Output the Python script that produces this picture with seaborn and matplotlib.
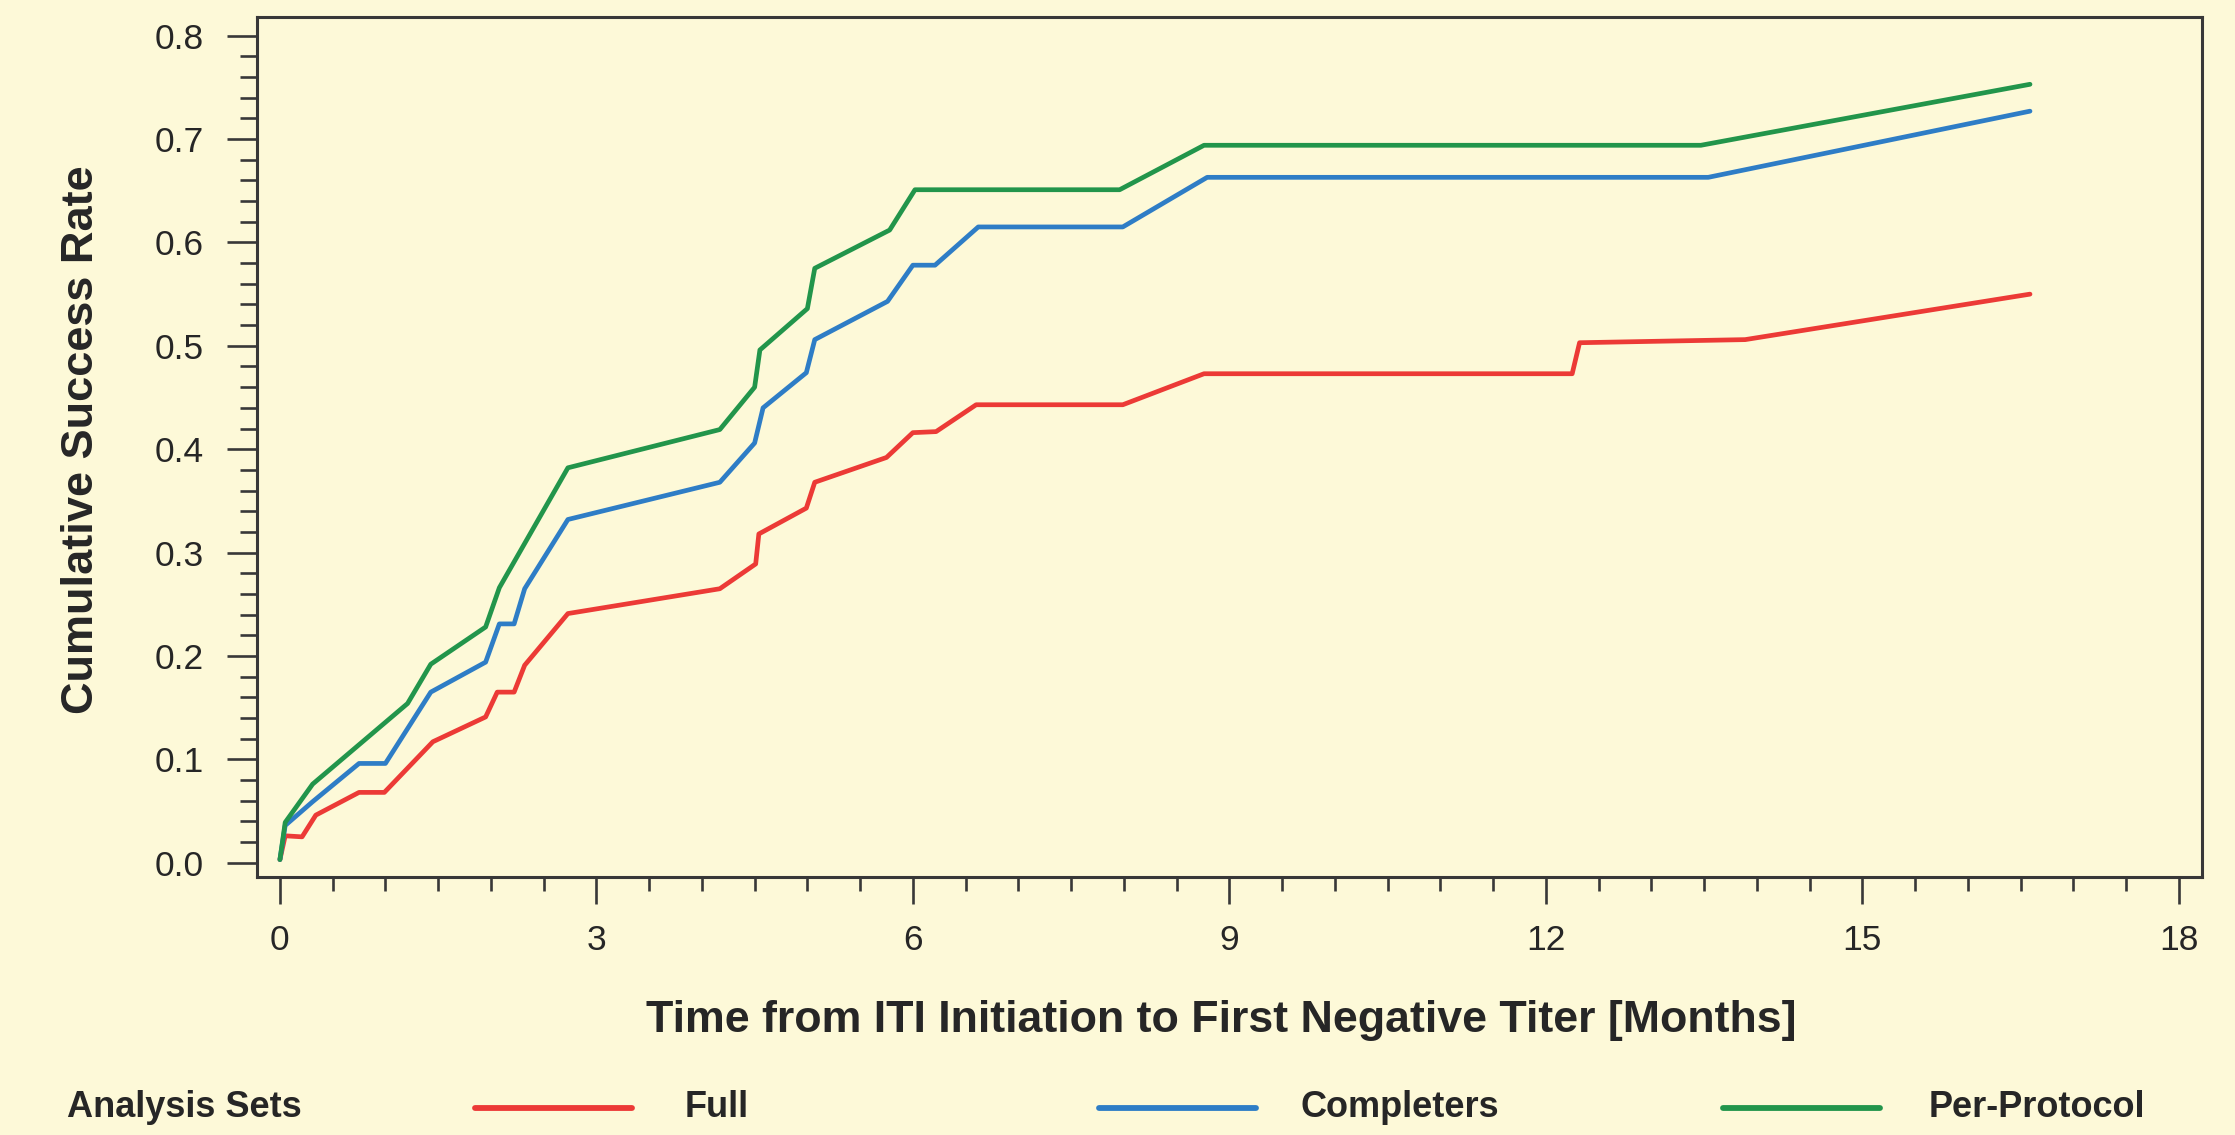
import matplotlib
matplotlib.use("Agg")
import matplotlib.pyplot as plt
from matplotlib.lines import Line2D
from matplotlib.ticker import MultipleLocator, FormatStrFormatter
import numpy as np
import pandas as pd
import seaborn as sns

# ---------------- data ----------------
full_months = [0.00, 0.05, 0.21, 0.34, 0.75, 0.99, 1.45, 1.95, 2.06, 2.22, 2.32, 2.73,
               4.17, 4.51, 4.54, 4.99, 5.07, 5.75, 6.00, 6.22, 6.60, 7.99, 8.76,
               12.25, 12.32, 13.89, 16.59]
full_rate = [0.003, 0.026, 0.025, 0.046, 0.068, 0.068, 0.117, 0.141, 0.165, 0.165, 0.191, 0.241,
             0.265, 0.289, 0.318, 0.343, 0.368, 0.392, 0.416, 0.417, 0.443, 0.443, 0.473,
             0.473, 0.503, 0.506, 0.550]

comp_months = [0.00, 0.05, 0.31, 0.75, 1.00, 1.43, 1.95, 2.08, 2.22, 2.32, 2.73,
               4.17, 4.50, 4.58, 4.99, 5.07, 5.76, 6.00, 6.21, 6.62, 7.99, 8.79,
               13.54, 16.59]
comp_rate = [0.003, 0.036, 0.059, 0.096, 0.096, 0.165, 0.194, 0.231, 0.231, 0.265, 0.332,
             0.368, 0.406, 0.440, 0.474, 0.506, 0.543, 0.578, 0.578, 0.615, 0.615, 0.663,
             0.663, 0.727]

pp_months = [0.00, 0.05, 0.31, 1.21, 1.43, 1.95, 2.08, 2.73, 4.17, 4.50, 4.55, 5.00,
             5.07, 5.78, 6.02, 7.96, 8.76, 13.47, 16.59]
pp_rate = [0.003, 0.039, 0.076, 0.154, 0.192, 0.228, 0.266, 0.382, 0.419, 0.460, 0.496, 0.536,
           0.575, 0.612, 0.651, 0.651, 0.694, 0.694, 0.753]

set_names = ["Full", "Completers", "Per-Protocol"]
set_colors = ["#EC3A36", "#2E7DC6", "#22954B"]

x_ticks = [0, 3, 6, 9, 12, 15, 18]
y_ticks = [0.0, 0.1, 0.2, 0.3, 0.4, 0.5, 0.6, 0.7, 0.8]

x_label = "Time from ITI Initiation to First Negative Titer [Months]"
y_label = "Cumulative Success Rate"
legend_title = "Analysis Sets"

# ---------------- build long-form table ----------------
df = pd.concat([
    pd.DataFrame({"Month": full_months, "Rate": full_rate, "Set": "Full"}),
    pd.DataFrame({"Month": comp_months, "Rate": comp_rate, "Set": "Completers"}),
    pd.DataFrame({"Month": pp_months, "Rate": pp_rate, "Set": "Per-Protocol"}),
], ignore_index=True)

# ---------------- style ----------------
BG = "#FDF9D8"
INK = "#262626"
SPINE = "#383838"

sns.set_theme(style="ticks")
plt.rcParams["font.family"] = ["Liberation Sans", "DejaVu Sans"]
plt.rcParams["axes.facecolor"] = BG
plt.rcParams["figure.facecolor"] = BG
plt.rcParams["savefig.facecolor"] = BG

fig = plt.figure(figsize=(22.35, 11.35), dpi=100)
ax = fig.add_axes([0.1151, 0.2269, 0.8703, 0.7584])

palette = dict(zip(set_names, set_colors))
sns.lineplot(data=df, x="Month", y="Rate", hue="Set", hue_order=set_names,
             palette=palette, estimator=None, sort=False, linewidth=3.4,
             legend=False, ax=ax)

ax.set_xlim(-0.215, 18.224)
ax.set_ylim(-0.0143, 0.8184)

ax.set_xticks(x_ticks)
ax.set_yticks(y_ticks)
ax.xaxis.set_minor_locator(MultipleLocator(0.5))
ax.yaxis.set_minor_locator(MultipleLocator(0.02))
ax.yaxis.set_major_formatter(FormatStrFormatter("%.1f"))

for side in ["left", "right", "top", "bottom"]:
    ax.spines[side].set_visible(True)
    ax.spines[side].set_color(SPINE)
    ax.spines[side].set_linewidth(2.2)

ax.tick_params(axis="y", which="major", direction="out", length=21.5, width=1.9,
               color=SPINE, labelsize=25.5, labelcolor=INK, pad=17)
ax.tick_params(axis="y", which="minor", direction="out", length=12, width=1.9, color=SPINE)
ax.tick_params(axis="x", which="major", direction="out", length=19.5, width=1.9,
               color=SPINE, labelsize=25.5, labelcolor=INK, pad=14)
ax.tick_params(axis="x", which="minor", direction="out", length=10, width=1.9, color=SPINE)

ax.set_xlabel(x_label, fontsize=32.2, fontweight="bold", color=INK)
ax.set_ylabel(y_label, fontsize=32.5, fontweight="bold", color=INK)
ax.xaxis.label.set_va("center")
ax.yaxis.label.set_va("center")
ax.xaxis.set_label_coords(0.4957, -0.1665)
ax.yaxis.set_label_coords(-0.0901, 0.5088)

# ---------------- legend row at the bottom ----------------
ly = 1 - 1107.7 / 1135
fig.text(66.7 / 2235, ly, legend_title, fontsize=26, fontweight="bold", color=INK,
         ha="left", va="center")
line_x0 = [475, 1099, 1723]
text_x0 = [685, 1301, 1929]
for name, color, lx, tx in zip(set_names, set_colors, line_x0, text_x0):
    fig.add_artist(Line2D([lx / 2235, (lx + 157) / 2235], [ly, ly],
                          color=color, linewidth=4.2, transform=fig.transFigure))
    fig.text(tx / 2235, ly, name, fontsize=26, fontweight="bold", color=INK,
             ha="left", va="center")

fig.savefig("out.png", dpi=100)
